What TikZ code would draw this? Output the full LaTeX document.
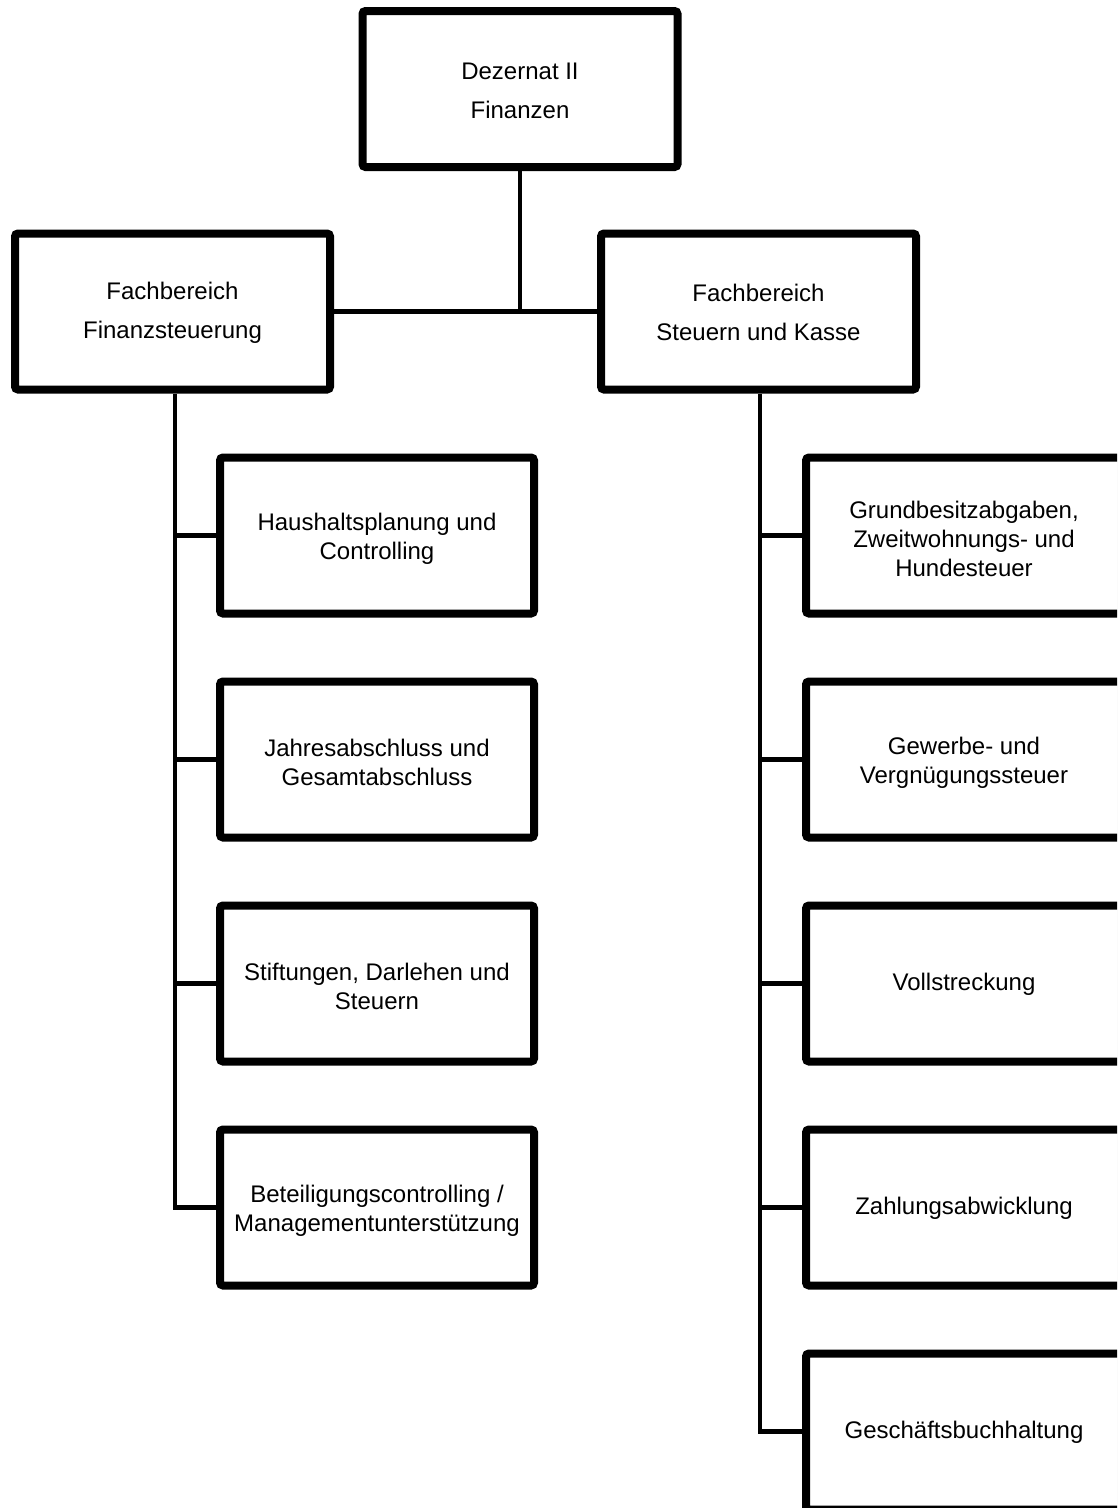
\documentclass[tikz,border=0pt]{standalone}
\usepackage{fontspec}
\setmainfont{Liberation Sans}
\usetikzlibrary{shadows}
\begin{document}
\begin{tikzpicture}[x=1pt,y=-1pt,
  box/.style={draw, line width=8pt, rounded corners=3pt, fill=white, inner sep=0pt,
    minimum width=314pt, minimum height=156pt,
    drop shadow={shadow xshift=2pt, shadow yshift=-2pt, opacity=0.25}},
  headbox/.style={box, minimum width=315pt},
  wbox/.style={box, minimum width=316pt},
  txt/.style={align=center, font=\fontsize{24}{29}\selectfont, inner sep=0pt},
  headtxt/.style={txt, font=\fontsize{24}{39}\selectfont},
  conn/.style={line width=4.5pt}]
\useasboundingbox (0,0) rectangle (1117,1508);
\clip (0,0) rectangle (1117,1508);

\coordinate (tl) at (175,389);
\coordinate (tr) at (760,389);

% boxes
\node[headbox] (top) at (520,89) {};
\node[headbox] (left) at (172.5,311.5) {};
\node[headbox] (right) at (758.5,311.5) {};
\node[box] (l1) at (377,535.5) {};
\node[box] (l2) at (377,759.5) {};
\node[box] (l3) at (377,983.5) {};
\node[box] (l4) at (377,1207.5) {};
\node[wbox] (r1) at (964,535.5) {};
\node[wbox] (r2) at (964,759.5) {};
\node[wbox] (r3) at (964,983.5) {};
\node[wbox] (r4) at (964,1207.5) {};
\node[wbox] (r5) at (964,1431.5) {};

% texts
\node[headtxt] (ttop) at ([yshift=-2pt]top.center) {Dezernat II\\Finanzen};
\node[headtxt] (tleft) at ([yshift=-1pt]left.center) {Fachbereich\\Finanzsteuerung};
\node[headtxt] (tright) at ([yshift=-1pt]right.center) {Fachbereich\\Steuern und Kasse};
\node[txt] (tl1) at ([yshift=-3pt]l1.center) {Haushaltsplanung und\\Controlling};
\node[txt] (tl2) at ([yshift=-3pt]l2.center) {Jahresabschluss und\\Gesamtabschluss};
\node[txt] (tl3) at ([yshift=-3pt]l3.center) {Stiftungen, Darlehen und\\Steuern};
\node[txt] (tl4) at ([yshift=-3pt]l4.center) {Beteiligungscontrolling /\\Managementunterstützung};
\node[txt] (tr1) at ([yshift=-3pt]r1.center) {Grundbesitzabgaben,\\Zweitwohnungs- und\\Hundesteuer};
\node[txt] (tr2) at ([yshift=-3pt]r2.center) {Gewerbe- und\\Vergnügungssteuer};
\node[txt] (tr3) at ([yshift=-1pt]r3.center) {Vollstreckung};
\node[txt] (tr4) at ([yshift=-1pt]r4.center) {Zahlungsabwicklung};
\node[txt] (tr5) at ([yshift=-1pt]r5.center) {Geschäftsbuchhaltung};

% connectors
\draw[conn] (top.south) -- (top.south |- left.east);
\draw[conn] (left.east) -- (right.west);
\draw[conn] (tl |- left.south) |- (l4.west);
\foreach \b in {l1,l2,l3} \draw[conn] (\b.west) -- (\b.west -| tl);
\draw[conn] (tr |- right.south) |- (r5.west);
\foreach \b in {r1,r2,r3,r4} \draw[conn] (\b.west) -- (\b.west -| tr);
\end{tikzpicture}
\end{document}
